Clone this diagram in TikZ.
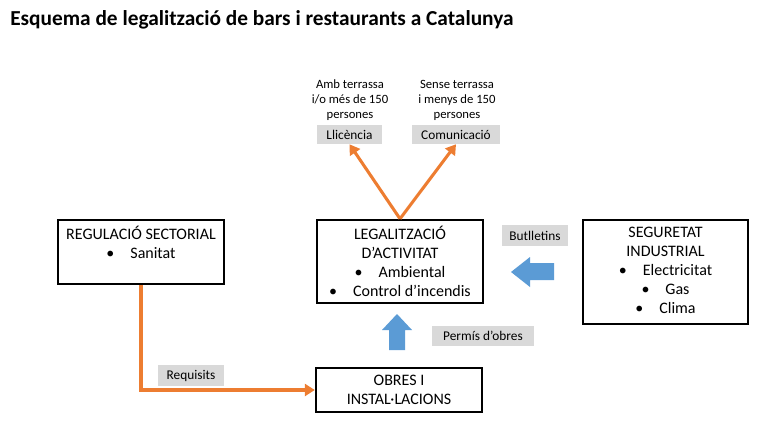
\documentclass[tikz,border=0pt]{standalone}
\usepackage{fontspec}
\setmainfont{Carlito}
\usetikzlibrary{arrows.meta}
\definecolor{orng}{HTML}{ED7D31}
\definecolor{blu}{HTML}{5B9BD5}
\definecolor{lbl}{HTML}{D9D9D9}
\newcommand\myboxfont{\fontsize{12}{14.25}\selectfont\lineskiplimit=-8pt\relax}
\newcommand\mybul{\textbullet\hspace{12pt}}
\begin{document}
\begin{tikzpicture}[x=0.75pt,y=-0.75pt,
  box/.style={draw=black, line width=1.8pt, inner sep=0pt},
  btext/.style={align=center, inner sep=0pt, anchor=north, font=\myboxfont},
  lab/.style={fill=lbl, inner sep=0pt, font=\fontsize{10}{12}\selectfont},
  note/.style={align=center, inner sep=0pt, font=\fontsize{9.5}{11.25}\selectfont},
  orarrow/.style={draw=orng, line width=2.3pt, -{Triangle[width=9pt,length=7.5pt]}},
  blockarrow/.style={fill=blu}]
\useasboundingbox (0,0) rectangle (765,433);
\node[anchor=west, inner sep=0pt, font=\bfseries\fontsize{16}{19}\selectfont] (title) at (10,20) {Esquema de legalització de bars i restaurants a Catalunya};

% boxes
\node[box, minimum width=124.5pt, minimum height=48pt] (reg) at (141,252) {};
\node[box, minimum width=124.5pt, minimum height=62.25pt] (leg) at (400,261.5) {};
\node[box, minimum width=124.5pt, minimum height=33pt] (obres) at (399,390) {};
\node[box, minimum width=123.75pt, minimum height=78pt] (seg) at (665.5,272) {};

% box texts
\node[btext] (regt) at ([yshift=-5.5pt]reg.north) {REGULACIÓ SECTORIAL\\\mybul Sanitat};
\node[btext] (legt) at ([yshift=-5.5pt]leg.north) {LEGALITZACIÓ\\D’ACTIVITAT\\\mybul Ambiental\\\mybul Control d’incendis};
\node[btext] (obrest) at ([yshift=-6pt]obres.north) {OBRES I\\INSTAL·LACIONS};
\node[btext] (segt) at ([yshift=-6pt]seg.north) {SEGURETAT\\INDUSTRIAL\\\mybul Electricitat\\\mybul Gas\\\mybul Clima};

% grey labels
\node[lab, minimum width=48.75pt, minimum height=14.25pt] (llic) at (349.5,134.5) {Llicència};
\node[lab, minimum width=66pt, minimum height=14.25pt] (comu) at (456,134.5) {Comunicació};
\node[lab, minimum width=49.5pt, minimum height=15.75pt] (butl) at (535,235.5) {Butlletins};
\node[lab, minimum width=76.5pt, minimum height=15pt] (perm) at (483,336) {Permís d’obres};
\node[lab, minimum width=49.5pt, minimum height=15.75pt] (req) at (191,375.5) {Requisits};

% notes
\node[note] (amb) at (350,100) {Amb terrassa\\i/o més de 150\\persones};
\node[note] (sense) at (457,100) {Sense terrassa\\i menys de 150\\persones};

% orange connectors
\draw[orarrow] (leg.north) -- (llic.south);
\draw[orarrow] (leg.north) -- (comu.south);
\draw[orarrow] (reg.south) |- (obres.west);

% blue block arrows
\fill[blockarrow] (511,272) -- (530,257) -- (530,263) -- (554,263) -- (554,280) -- (530,280) -- (530,287) -- cycle;
\fill[blockarrow] (397,314) -- (412,330) -- (405,330) -- (405,350) -- (389,350) -- (389,330) -- (382,330) -- cycle;
\end{tikzpicture}
\end{document}
